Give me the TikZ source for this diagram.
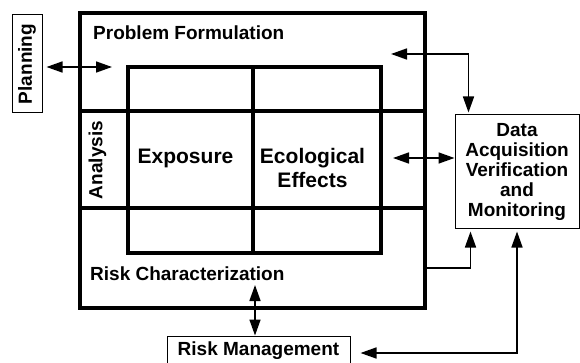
\documentclass[tikz,border=0pt]{standalone}
\usepackage{fontspec}
\setmainfont{Liberation Sans}
\usetikzlibrary{arrows.meta}
\begin{document}
\begin{tikzpicture}[x=1pt,y=-1pt,
  heavy/.style={line width=4pt},
  thinbox/.style={draw,line width=1pt,inner sep=0pt},
  lbl/.style={font=\bfseries\fontsize{19}{20}\selectfont,inner sep=0pt},
  biglbl/.style={font=\bfseries\fontsize{21}{24}\selectfont,inner sep=0pt},
  conn/.style={line width=1.6pt,-{Triangle[length=16pt,width=11pt]}},
  bothway/.style={line width=1.6pt,{Triangle[length=16pt,width=11pt]}-{Triangle[length=16pt,width=11pt]}}]
\useasboundingbox (0,0) rectangle (580,363);
\node[draw,heavy,minimum width=345pt,minimum height=295pt] (frame) at (252.5,160.5) {};
\draw[heavy] (frame.west |- 0,111) -- (frame.east |- 0,111);
\draw[heavy] (frame.west |- 0,208) -- (frame.east |- 0,208);
\draw[heavy] (128,67) rectangle (381,253);
\draw[heavy] (253,67) -- (253,253);

\node[lbl,anchor=west] (pf) at (93,33) {Problem Formulation};
\node[lbl,anchor=west] (rc) at (90,273.5) {Risk Characterization};
\node[lbl,rotate=90] (analysis) at (97.5,160) {Analysis};
\node[biglbl,anchor=base] (expo) at (185.5,164) {Exposure};
\node[biglbl,align=center] (eco) at (312.5,167.5) {Ecological\\Effects};

\node[thinbox,lbl,minimum width=30pt,minimum height=98pt] (plan) at (27,64) {\rotatebox{90}{Planning}};
\node[thinbox,lbl,minimum width=124pt,minimum height=113pt,align=center] (data) at (517,171.5) {Data\\Acquisition\\Verification\\and\\Monitoring};
\node[thinbox,lbl,minimum width=183pt,minimum height=30pt] (rm) at (258.5,351) {Risk Management};

\coordinate (planTip) at (112,67);
\coordinate (pfTip) at (391,54);
\coordinate (ecoTip) at (393,158);
\coordinate (rcTip) at (255,285);
\draw[bothway] ([xshift=4pt]plan.east |- planTip) -- (planTip);
\draw[bothway] (pfTip) -| ([xshift=14pt,yshift=2pt]data.north west);
\draw[bothway] (ecoTip) -- (ecoTip -| data.west);
\draw[conn] (frame.east |- 0,268) -| ([xshift=16pt,yshift=-3pt]data.south west);
\draw[bothway] ([yshift=-3pt]data.south) |- ([xshift=10pt,yshift=-2pt]rm.east);
\draw[bothway] (rcTip) -- (rcTip |- rm.north);
\end{tikzpicture}
\end{document}
